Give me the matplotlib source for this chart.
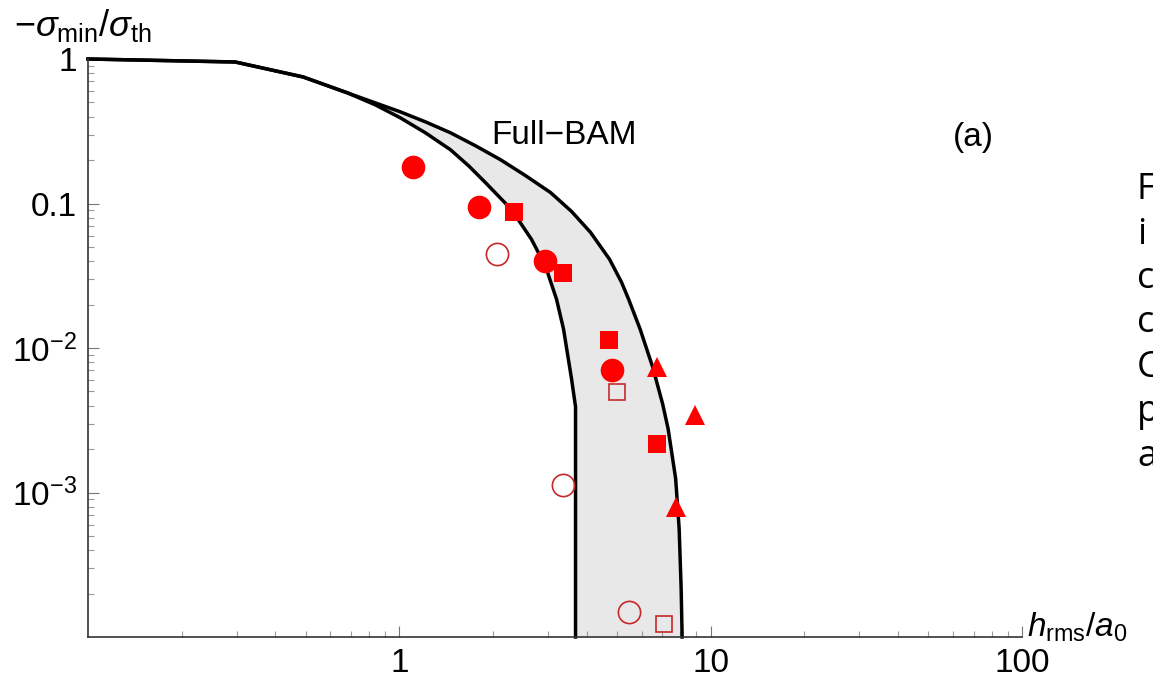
import matplotlib
matplotlib.use('Agg')
import matplotlib.pyplot as plt

plt.rcParams['font.family'] = ['Liberation Sans', 'DejaVu Sans']
plt.rcParams['mathtext.fontset'] = 'custom'
plt.rcParams['mathtext.rm'] = 'Liberation Sans'
plt.rcParams['mathtext.it'] = 'Liberation Sans:italic'
plt.rcParams['mathtext.default'] = 'it'

# theory curves
common_x = [0.1, 0.297, 0.491, 0.681]
common_y = [1.0, 0.9535, 0.751, 0.583]

outer_x = [0.837, 1.007, 1.212, 1.459, 1.755, 2.112, 2.542, 3.059, 3.574, 4.113,
           4.734, 5.173, 5.450, 5.934, 6.509, 7.009, 7.299, 7.718, 7.920, 8.038,
           8.098]
outer_y = [0.497, 0.431, 0.3676, 0.3088, 0.2512, 0.2011, 0.156, 0.1191, 0.0881, 0.0631,
           0.0411, 0.0285, 0.02177, 0.01352, 0.0074, 0.00411, 0.002763, 0.001249, 5.645e-4, 2.178e-4,
           1e-4]

inner_x = [0.837, 1.007, 1.212, 1.459, 1.667, 1.890, 2.291, 2.657, 2.948, 3.198,
           3.368, 3.574, 3.681, 3.681]
inner_y = [0.4817, 0.3918, 0.3088, 0.2357, 0.1829, 0.1396, 0.0909, 0.0565, 0.03676, 0.02177,
           0.01352, 0.00611, 0.003917, 1e-4]

# data points
fcirc_x = [1.109, 1.808, 2.926, 4.806]
fcirc_y = [0.18, 0.094, 0.040, 0.0070]
ocirc_x = [2.066, 3.343, 5.45]
ocirc_y = [0.0445, 0.00112, 1.49e-4]
fsq_x = [2.343, 3.343, 4.699, 6.706]
fsq_y = [0.088, 0.0329, 0.01136, 0.00218]
osq_x = [4.986, 7.062]
osq_y = [0.00497, 1.23e-4]
tri_x = [6.706, 8.883, 7.718]
tri_y = [0.0074, 0.00345, 8.0e-4]

side_letters = ['F', 'i', 'c', 'c', 'C', 'p', 'a']

fig = plt.figure(figsize=(11.53, 6.80), dpi=100)
ax = fig.add_axes([88/1153, 1-637/680, 934/1153, 578/680])
ax.set_xscale('log')
ax.set_yscale('log')
ax.set_xlim(0.1, 100)
ax.set_ylim(1e-4, 1)

ox = common_x + outer_x
oy = common_y + outer_y
ix = common_x + inner_x
iy = common_y + inner_y

# shaded band between the two curves
ax.fill(outer_x + inner_x[::-1], outer_y + inner_y[::-1], color='#e8e8e8', lw=0, zorder=1)
ax.plot(ox, oy, 'k-', lw=2.5, zorder=2, clip_on=False, solid_joinstyle='round')
ax.plot(ix, iy, 'k-', lw=2.5, zorder=2, clip_on=False, solid_joinstyle='round')

red = '#ff0000'
dred = '#c8282a'
ax.plot(fcirc_x, fcirc_y, 'o', ms=17, color=red, mew=0, ls='none', zorder=3)
ax.plot(ocirc_x, ocirc_y, 'o', ms=16, mfc='none', mec=dred, mew=1.2, ls='none', zorder=3)
ax.plot(fsq_x, fsq_y, 's', ms=12.5, color=red, mew=0, ls='none', zorder=3)
ax.plot(osq_x, osq_y, 's', ms=11, mfc='none', mec=dred, mew=1.2, ls='none', zorder=3)
ax.plot(tri_x, tri_y, '^', ms=14.5, color=red, mew=0, ls='none', zorder=3)

for s in ['top', 'right']:
    ax.spines[s].set_visible(False)
for s in ['left', 'bottom']:
    ax.spines[s].set_color('#333333')
    ax.spines[s].set_linewidth(1.2)

ax.set_xticks([1, 10, 100])
ax.set_xticklabels(['1', '10', '100'])
ax.set_yticks([1e-3, 1e-2, 0.1, 1])
ax.set_yticklabels([r'$\mathrm{10^{-3}}$', r'$\mathrm{10^{-2}}$', '0.1', '1'])
ax.tick_params(which='major', direction='in', length=8, width=0.8, color='#777777',
               labelsize=24, pad=8)
ax.tick_params(which='minor', direction='in', length=4.5, width=0.8, color='#999999')

ax.text(0.51, 0.853, 'Full\u2212BAM', transform=ax.transAxes, ha='center',
        va='baseline', fontsize=24)
ax.text(0.948, 0.85, '(a)', transform=ax.transAxes, ha='center',
        va='baseline', fontsize=24)

fig.text(14/1153, 1-36/680, r'$-\sigma_{\rm min}/\sigma_{\rm th}$', ha='left',
         va='baseline', fontsize=26)
fig.text(1027/1153, 1-637/680, r'$h_{\rm rms}/a_0$', ha='left',
         va='baseline', fontsize=24)

# fragments of neighbouring slide text, cut by the right edge as in the source
for k, ch in enumerate(side_letters):
    fig.text(1137/1153, 1-(199 + 44.5*k)/680, ch, ha='left', va='baseline',
             fontsize=26, family=['Open Sans', 'DejaVu Sans'])

fig.savefig('out.png', dpi=100)
